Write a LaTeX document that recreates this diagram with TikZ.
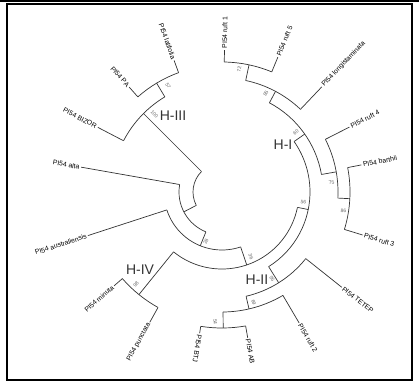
\documentclass[tikz,border=0pt]{standalone}
\usepackage{fontspec}
\setmainfont{Liberation Sans}
\usetikzlibrary{positioning}

\begin{document}
\begin{tikzpicture}[x=1pt, y=1pt,
    branch/.style = {draw=black!80, line width=0.7pt},
    taxon/.style = {font=\fontsize{6.8}{6.8}\selectfont, inner sep=1.5pt},
    boot/.style = {font=\fontsize{5}{5}\selectfont, text=black!60, inner sep=0pt},
    clade/.style = {font=\fontsize{14}{14}\selectfont, text=black!80, inner sep=0pt}]
  \useasboundingbox (0,0) rectangle (419,381);
  % frame
  \fill (0,379) rectangle (419,381);
  \draw[line width=2pt] (6.5,1.5) rectangle (411.5,377);

  \begin{scope}[shift={(222,189)}]
    % root arc
    \coordinate (root-s) at (135:29);
    \draw[branch] (root-s) arc[start angle=135, end angle=207.5, radius=29];
    % internal nodes: name / angle / radius / parent radius / arc from / arc to
    \foreach \n/\a/\r/\p/\s/\e in {
        n100/135/111/29/121/152.5, n57/121/127/111/110/131.5,
        r1/207.5/43/29/170/248, n28/248/58/43/198/288.75,
        n36/288.75/77/58/231/348.5, n98/231/132/77/221/241,
        n56/348.5/88/77/-58/35, n60/35/101/88/10/62,
        n85/62/114/101/46.5/78, n72/78/130/114/67.5/89,
        n75/10/116/101/-3/27, n86/-3/128/116/-17/11,
        n95/-58/107/88/-77/-38.5, n69/-77/120/107/-89.5/-59.5,
        n54/-89.5/136/120/-99/-80}
    {
      \coordinate (\n) at (\a:\r);
      \coordinate (\n-in) at (\a:\p);
      \coordinate (\n-s) at (\s:\r);
      \draw[branch] (\n-in) -- (\n);
      \draw[branch] (\n-s) arc[start angle=\s, end angle=\e, radius=\r];
    }
    % leaves: name / angle / parent radius / tip radius / rotation / anchor / text
    \foreach \n/\a/\p/\t/\rot/\anc/\txt in {
        ruft1/89/130/142/89/west/PI54 ruft 1,
        ruft5/67.5/130/146/67.5/west/PI54 ruft 5,
        longi/46.5/114/145/46.5/west/PI54 longistaminata,
        ruft4/27/116/143/27/west/PI54 ruft 4,
        barthii/11/128/142/11/west/PI54 barthii,
        ruft3/-17/128/147/-17/west/PI54 ruft 3,
        tetep/-38.5/107/153/-38.5/west/PI54 TETEP,
        ruft2/-59.5/120/152/-59.5/west/PI54 ruft 2,
        ab/-80/136/148/-80/west/PI54 AB,
        btj/-99/136/143/-99/west/PI54 BTJ,
        punct/241/132/149/61/east/PI54 punctata,
        minuta/221/132/143/41/east/PI54 minuta,
        austr/198/58/141/18/east/PI54 australiensis,
        alta/170/43/143/-10/east/PI54 alta,
        bizor/152.5/111/140/-27.5/east/PI54 BIZOR,
        pa/131.5/127/140/-48.5/east/PI54 PA,
        latif/110/127/140/-70/east/PI54 latifolia}
    {
      \coordinate (\n-in) at (\a:\p);
      \node[taxon, rotate=\rot, anchor=\anc] (\n) at (\a:\t) {\txt};
      \draw[branch] (\n-in) -- (\n.\anc);
    }
    % bootstrap values
    \foreach \a/\r/\rot/\v in {
        117/119/-59/57, 131/103/-45/100, 252/52/68/28, 294/71/-71/36,
        227/126/51/98, 353/82/-11.5/56, 39/95/35/60, 66/108/62/85,
        82/124/78/72, 5/110/10/75, -9/123/-3/86, -60/100/-58/95,
        -74/115/-77/69, -93/130/-89.5/54}
      \node[boot, rotate=\rot] (b\v) at (\a:\r) {\v};
  \end{scope}

  % clade names
  \node[clade] (h1) at (283,236) {H-I};
  \node[clade] (h2) at (257,101) {H-II};
  \node[clade] (h3) at (173,265) {H-III};
  \node[clade] (h4) at (140,111) {H-IV};
\end{tikzpicture}
\end{document}
